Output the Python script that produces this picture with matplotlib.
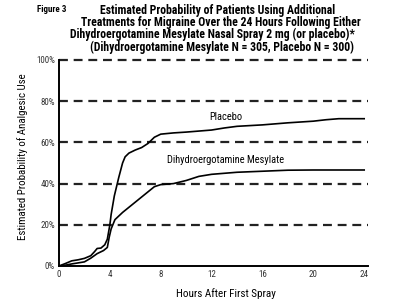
import matplotlib
matplotlib.use('Agg')
import matplotlib.pyplot as plt
from matplotlib.ticker import FuncFormatter

plt.rcParams['font.family'] = ['Roboto Condensed', 'DejaVu Sans']

# hours after first spray, estimated probability (%)
placebo_hours = [0, 0.5, 1, 1.5, 2, 2.5, 2.8, 3, 3.3, 3.6, 3.8, 4.0, 4.1, 4.35, 4.7,
                 5.0, 5.2, 5.5, 6, 6.5, 7, 7.5, 8, 9, 10, 11, 12, 13, 14, 16, 18,
                 20, 21, 22, 24]
placebo_pct = [0, 1.2, 2.5, 3, 3.7, 5, 7, 8.5, 8.7, 10.3, 13, 20, 25, 34, 43,
               50, 53, 54.8, 56.3, 57.5, 59.5, 62.5, 64, 64.6, 65, 65.5, 66, 67,
               67.8, 68.5, 69.5, 70.3, 71, 71.5, 71.5]

dhe_hours = [0, 0.5, 1, 1.5, 2, 2.5, 3, 3.5, 3.8, 3.95, 4.1, 4.4, 5, 6, 7, 7.5,
             8, 9, 10, 11, 12, 14, 16, 18, 20, 24]
dhe_pct = [0, 0.4, 1, 1.5, 2, 3.8, 6, 7.5, 9, 14, 18, 22.5, 26, 31, 36, 38.5,
           39.5, 40, 41.5, 43.5, 44.5, 45.5, 46, 46.5, 46.6, 46.6]

x_ticks = [0, 4, 8, 12, 16, 20, 24]
y_ticks = [0, 20, 40, 60, 80, 100]

title_lines = [
    'Estimated Probability of Patients Using Additional',
    'Treatments for Migraine Over the 24 Hours Following Either',
    'Dihydroergotamine Mesylate Nasal Spray 2 mg (or placebo)*',
]
subtitle = '(Dihydroergotamine Mesylate N = 305, Placebo N = 300)'

fig = plt.figure(figsize=(4, 3.01), dpi=100)
ax = fig.add_axes([0.1475, 0.1163, 0.7725, 0.6844])

for y in y_ticks[1:]:
    ax.axhline(y, color='#222222', lw=1.6, ls=(0, (4, 2.6)), zorder=1,
               clip_on=False)

ax.plot(placebo_hours, placebo_pct, color='black', lw=1.2, zorder=3)
ax.plot(dhe_hours, dhe_pct, color='black', lw=1.2, zorder=3)

ax.text(13.1, 72.3, 'Placebo', ha='center', va='center', fontsize=7.5)
ax.text(13.1, 51.5, 'Dihydroergotamine Mesylate', ha='center', va='center',
        fontsize=7.5)

ax.set_xlim(0, 24.3)
ax.set_ylim(0, 100)
ax.set_xticks(x_ticks)
ax.set_yticks(y_ticks)
ax.yaxis.set_major_formatter(FuncFormatter(lambda v, p: f'{v:.0f}%'))
ax.tick_params(length=0, labelsize=6.5, pad=3, colors='#333333')
for s in ['top', 'right']:
    ax.spines[s].set_visible(False)
for s in ['left', 'bottom']:
    ax.spines[s].set_linewidth(1.4)

ax.set_xlabel('Hours After First Spray', fontsize=8)
ax.xaxis.set_label_coords(0.54, -0.105)
ax.set_ylabel('Estimated Probability of Analgesic Use', fontsize=7.8)
ax.yaxis.set_label_coords(-0.10, 0.53)

fig.text(0.0925, 0.967, 'Figure 3', fontsize=6.5, fontweight='bold',
         ha='left', va='center')
title_y = [0.966, 0.926, 0.887]
title_x = [0.543, 0.552, 0.53]
for line, tx, ty in zip(title_lines, title_x, title_y):
    fig.text(tx, ty, line, fontsize=8.5, fontweight='bold',
             ha='center', va='center')
fig.text(0.555, 0.842, subtitle, fontsize=8.5, fontweight='bold',
         ha='center', va='center')

fig.savefig('out.png', dpi=100)
